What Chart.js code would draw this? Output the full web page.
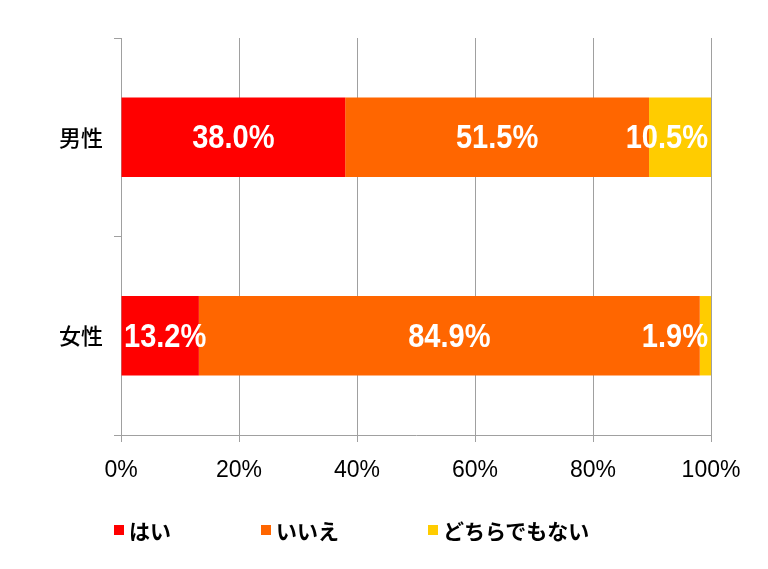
<!DOCTYPE html>
<html lang="ja">
<head>
<meta charset="utf-8">
<script src="https://cdn.jsdelivr.net/npm/chart.js@4"></script>
<style>
  body { margin: 0; background: #fff; }
  #wrap { position: relative; width: 768px; height: 569px; }
  #leyenda { position: absolute; left: 0; top: 515px; width: 768px; height: 30px;
    font: 700 21px 'Noto Sans CJK JP', sans-serif; color: #000; }
  #leyenda .item { position: absolute; top: 0; display: flex; align-items: center; line-height: 30px; }
  #leyenda .cx { width: 10px; height: 10px; margin-right: 5px; }
</style>
</head>
<body>
<div id="wrap">
  <canvas id="grafico"></canvas>
  <div id="leyenda"></div>
</div>
<script>
// categorias e series
const categorias = ['男性', '女性'];
const series = ['はい', 'いいえ', 'どちらでもない'];
const valHai = [38.0, 13.2];
const valIie = [51.5, 84.9];
const valDochira = [10.5, 1.9];
const cores = ['#FF0000', '#FF6600', '#FFCC00'];
const ticksX = [0, 20, 40, 60, 80, 100];
const posLegenda = [114, 261, 428];

// legenda em HTML
document.getElementById('leyenda').innerHTML = series.map((s, i) =>
  `<div class="item" style="left:${posLegenda[i]}px"><span class="cx" style="background:${cores[i]}"></span>${s}</div>`).join('');

// rótulos brancos dentro das barras (fonte condensada via escala horizontal)
const rotulos = {
  id: 'rotulos',
  afterDatasetsDraw(chart) {
    const ctx = chart.ctx;
    const area = chart.chartArea;
    const esc = 0.88;
    ctx.save();
    ctx.font = "700 33px 'Liberation Sans', Arial, sans-serif";
    ctx.fillStyle = '#fff';
    ctx.textBaseline = 'middle';
    chart.data.datasets.forEach((ds, di) => {
      const meta = chart.getDatasetMeta(di);
      meta.data.forEach((bar, i) => {
        const txt = ds.data[i].toFixed(1) + '%';
        const w = ctx.measureText(txt).width * esc;
        const x0 = Math.min(bar.base, bar.x), x1 = Math.max(bar.base, bar.x);
        let left = (x0 + x1) / 2 - w / 2;
        if (left + w > area.right - 3) left = area.right - 3 - w;
        if (left < area.left + 3) left = area.left + 3;
        ctx.save();
        ctx.translate(left, bar.y + 2);
        ctx.scale(esc, 1);
        ctx.fillText(txt, 0, 0);
        ctx.restore();
      });
    });
    ctx.restore();
  }
};

new Chart(document.getElementById('grafico'), {
  type: 'bar',
  data: {
    labels: categorias,
    datasets: [valHai, valIie, valDochira].map((d, i) => ({
      label: series[i], data: d, backgroundColor: cores[i],
      barPercentage: 0.4, categoryPercentage: 1, borderWidth: 0
    }))
  },
  plugins: [rotulos],
  options: {
    indexAxis: 'y',
    responsive: true, maintainAspectRatio: false, animation: false,
    layout: { padding: { top: 38, right: 57, left: 0, bottom: 0 } },
    plugins: { legend: { display: false }, tooltip: { enabled: false } },
    scales: {
      x: {
        stacked: true, min: 0, max: 100,
        afterBuildTicks: s => { s.ticks = ticksX.map(v => ({ value: v })); },
        afterFit: s => { s.height = 134; },
        grid: { color: '#a0a0a0', lineWidth: 1, tickLength: 7, drawTicks: true },
        border: { display: true, color: '#a0a0a0', width: 1 },
        ticks: { callback: v => v + '%', color: '#000', padding: 15,
          font: { family: "'Liberation Sans', Arial, sans-serif", size: 23 } }
      },
      y: {
        stacked: true,
        afterFit: s => { s.width = 121; },
        grid: { drawOnChartArea: false, offset: true, tickLength: 7, color: '#a0a0a0' },
        border: { color: '#a0a0a0', width: 1 },
        ticks: { color: '#000', padding: 11,
          font: { family: "'Noto Sans CJK JP', sans-serif", size: 22, weight: '500' } }
      }
    }
  }
});
</script>
</body>
</html>
